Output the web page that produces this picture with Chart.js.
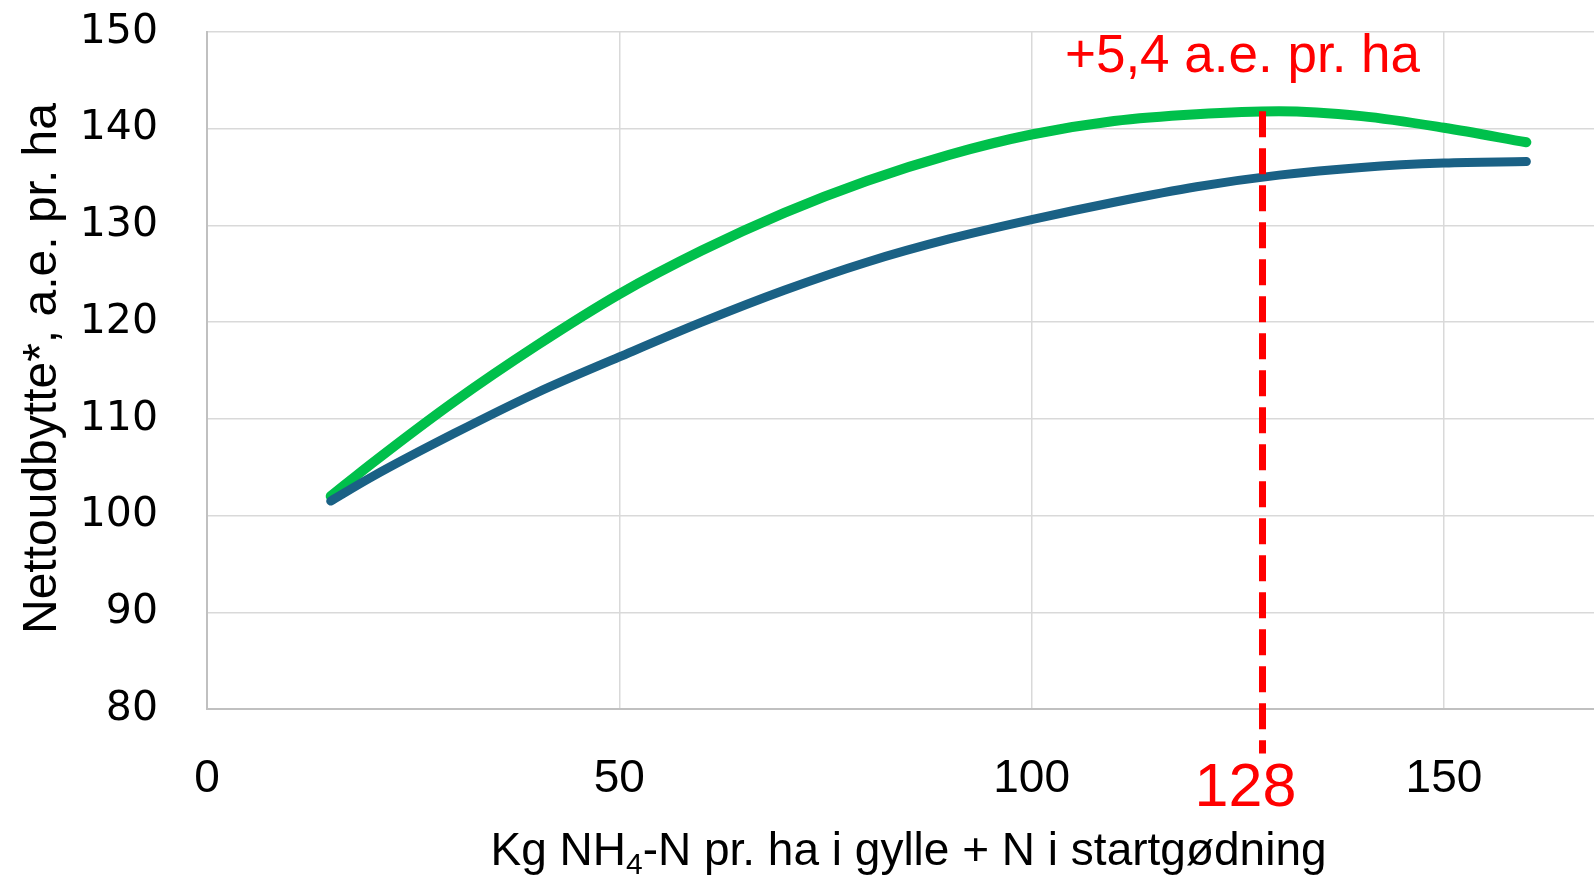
<!DOCTYPE html>
<html>
<head>
<meta charset="utf-8">
<script src="https://cdn.jsdelivr.net/npm/chart.js@4.4.1/dist/chart.umd.min.js"></script>
<style>
  html, body { margin: 0; padding: 0; background: #fff; }
  #wrap { width: 1594px; height: 876px; }
</style>
</head>
<body>
<div id="wrap"><canvas id="chart" width="1594" height="876"></canvas></div>
<script>
// kg NH4-N pr. ha (x)
const nValues = [15, 20, 30, 40, 50, 60, 70, 80, 90, 100, 110, 120, 130, 140, 150, 160];
// nettoudbytte, grøn kurve
const greenYield = [102.0, 105.4, 111.8, 117.6, 122.9, 127.4, 131.3, 134.6, 137.3, 139.4, 140.8, 141.5, 141.8, 141.3, 140.1, 138.6];
// nettoudbytte, blå kurve
const blueYield = [101.5, 104.0, 108.5, 112.7, 116.4, 120.0, 123.3, 126.2, 128.6, 130.6, 132.4, 134.0, 135.2, 136.0, 136.45, 136.6];

// optimum marker
const markX = 128;
const markTop = 141.8;
const markBottom = 75.4;
const markLabel = '128';
const gainLabel = '+5,4 a.e. pr. ha';

const xTicks = [0, 50, 100, 150];
const yTicks = [80, 90, 100, 110, 120, 130, 140, 150];
const xTitleParts = ['Kg NH', '4', '-N pr. ha i gylle + N i startgødning'];
const yTitle = 'Nettoudbytte*, a.e. pr. ha';

const toPoints = (xs, ys) => xs.map((x, i) => ({ x: x, y: ys[i] }));

// tekster tegnes selv (subscript i x-titlen)
const textPlugin = {
  id: 'texts',
  afterDraw(chart) {
    const { ctx, scales } = chart;
    const x = scales.x, y = scales.y;
    const px = x.getPixelForValue(markX);
    ctx.save();
    ctx.fillStyle = '#ff0000';
    ctx.textAlign = 'center';
    ctx.textBaseline = 'alphabetic';
    ctx.font = '53px "Liberation Sans", Arial, sans-serif';
    ctx.fillText(gainLabel, px - 20, y.top + 40);
    ctx.font = '61px "Liberation Sans", Arial, sans-serif';
    ctx.fillText(markLabel, px - 17, 806);

    // x title
    ctx.fillStyle = '#000';
    ctx.textAlign = 'left';
    const big = '46px "Liberation Sans", Arial, sans-serif';
    const small = '30px "Liberation Sans", Arial, sans-serif';
    ctx.font = big;
    const w0 = ctx.measureText(xTitleParts[0]).width;
    const w2 = ctx.measureText(xTitleParts[2]).width;
    ctx.font = small;
    const w1 = ctx.measureText(xTitleParts[1]).width;
    let sx = (x.left + x.right) / 2 + 8 - (w0 + w1 + w2) / 2;
    const base = 865;
    ctx.font = big;
    ctx.fillText(xTitleParts[0], sx, base);
    sx += w0;
    ctx.font = small;
    ctx.fillText(xTitleParts[1], sx, base + 9);
    sx += w1;
    ctx.font = big;
    ctx.fillText(xTitleParts[2], sx, base);

    // y title
    ctx.translate(56, (y.top + y.bottom) / 2 - 2);
    ctx.rotate(-Math.PI / 2);
    ctx.textAlign = 'center';
    ctx.font = '48px "Liberation Sans", Arial, sans-serif';
    ctx.fillText(yTitle, 0, 0);
    ctx.restore();
  }
};

new Chart(document.getElementById('chart'), {
  type: 'line',
  data: {
    datasets: [
      {
        label: 'Optimum',
        data: [{ x: markX, y: markTop }, { x: markX, y: markBottom }],
        borderColor: '#ff0000',
        borderWidth: 7,
        borderDash: [26, 11],
        borderCapStyle: 'butt',
        pointRadius: 0,
        clip: false,
        order: 0
      },
      {
        label: 'Grøn',
        data: toPoints(nValues, greenYield),
        borderColor: '#00c04b',
        borderWidth: 10,
        borderCapStyle: 'round',
        cubicInterpolationMode: 'monotone',
        pointRadius: 0,
        order: 2
      },
      {
        label: 'Blå',
        data: toPoints(nValues, blueYield),
        borderColor: '#1a6185',
        borderWidth: 9,
        borderCapStyle: 'round',
        cubicInterpolationMode: 'monotone',
        pointRadius: 0,
        order: 1
      }
    ]
  },
  options: {
    responsive: false,
    animation: false,
    layout: { padding: { top: 32, right: 0, left: 0, bottom: 0 } },
    plugins: {
      legend: { display: false },
      tooltip: { enabled: false }
    },
    scales: {
      x: {
        type: 'linear',
        min: 0,
        max: 168.2,
        afterBuildTicks: s => { s.ticks = xTicks.map(v => ({ value: v })); },
        afterFit: s => { s.height = 167; s.paddingLeft = 0; s.paddingRight = 0; },
        grid: { color: '#d9d9d9', lineWidth: 1.5, drawTicks: false },
        border: { color: '#c0c0c0', width: 2 },
        ticks: {
          padding: 43,
          color: '#000',
          maxRotation: 0,
          font: { family: '"Liberation Sans", Arial, sans-serif', size: 46 }
        }
      },
      y: {
        min: 80,
        max: 150,
        afterBuildTicks: s => { s.ticks = yTicks.map(v => ({ value: v })); },
        afterFit: s => { s.width = 207; s.paddingTop = 0; s.paddingBottom = 0; },
        grid: { color: '#d9d9d9', lineWidth: 1.5, drawTicks: false },
        border: { color: '#c0c0c0', width: 2 },
        ticks: {
          padding: 49,
          color: '#000',
          font: { family: '"DejaVu Sans", Verdana, sans-serif', size: 41 }
        }
      }
    }
  },
  plugins: [textPlugin]
});
</script>
</body>
</html>
